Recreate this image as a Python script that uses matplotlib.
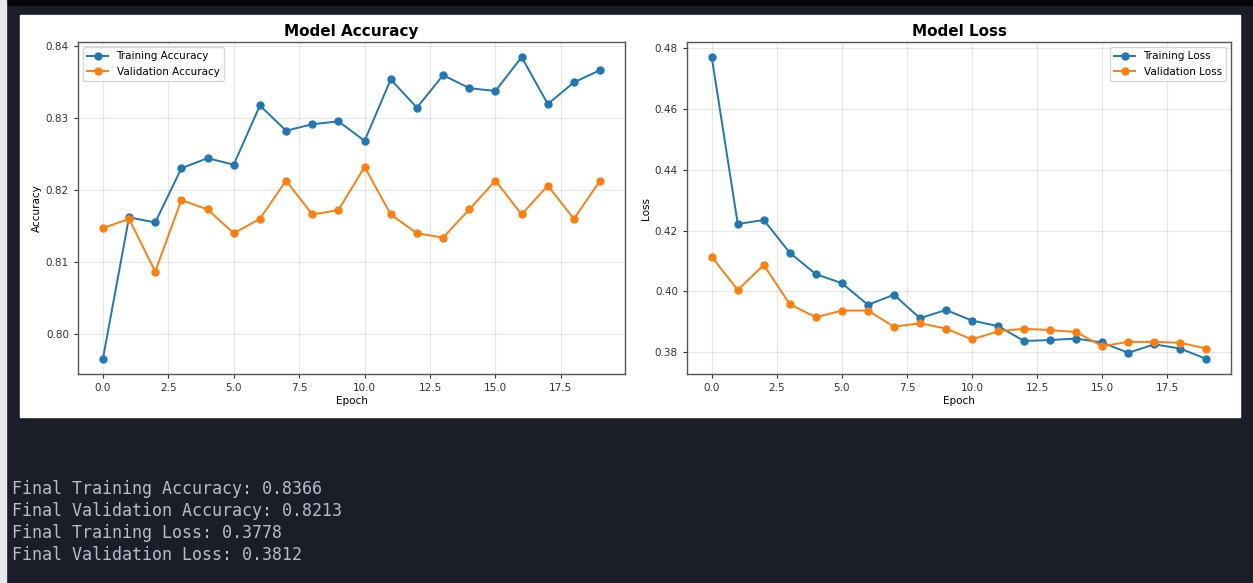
import matplotlib
matplotlib.use("Agg")
import matplotlib.pyplot as plt
from matplotlib.patches import Rectangle

epochs = list(range(20))
train_acc = [0.7966, 0.8162, 0.8155, 0.8230, 0.8244, 0.8235, 0.8317, 0.8282, 0.8291, 0.8295,
             0.8268, 0.8353, 0.8314, 0.8359, 0.8341, 0.8337, 0.8384, 0.8319, 0.8349, 0.8366]
val_acc = [0.8147, 0.8160, 0.8087, 0.8186, 0.8173, 0.8140, 0.8160, 0.8213, 0.8166, 0.8172,
           0.8232, 0.8166, 0.8140, 0.8134, 0.8173, 0.8213, 0.8166, 0.8206, 0.8160, 0.8213]
train_loss = [0.4771, 0.4222, 0.4235, 0.4127, 0.4057, 0.4027, 0.3956, 0.3989, 0.3912, 0.3939,
              0.3904, 0.3886, 0.3837, 0.3840, 0.3845, 0.3832, 0.3798, 0.3826, 0.3812, 0.3778]
val_loss = [0.4114, 0.4005, 0.4087, 0.3958, 0.3915, 0.3937, 0.3937, 0.3884, 0.3895, 0.3878,
            0.3842, 0.3869, 0.3877, 0.3873, 0.3866, 0.3820, 0.3834, 0.3834, 0.3831, 0.3812]
summary_lines = [
    "Final Training Accuracy: 0.8366",
    "Final Validation Accuracy: 0.8213",
    "Final Training Loss: 0.3778",
    "Final Validation Loss: 0.3812",
]

W, H = 1253, 583
BG = "#1b1d29"
fig = plt.figure(figsize=(W / 100, H / 100), dpi=100, facecolor=BG)

def fx(px):
    return px / W

def fy(py):
    return 1 - py / H

# top black strip and left light strip
fig.patches.append(Rectangle((0, fy(5)), 1, 5 / H, transform=fig.transFigure, color="#050507", zorder=-2))
fig.patches.append(Rectangle((0, 0), fx(6), 1, transform=fig.transFigure, color="#e8e8ec", zorder=-2))
# white figure panel
fig.patches.append(Rectangle((fx(20), fy(417)), fx(1240) - fx(20), (417 - 15) / H,
                             transform=fig.transFigure, color="white", zorder=-2))

blue = "#1f77b4"
orange = "#ff7f0e"
fs = 7.5

def style(ax):
    ax.grid(True, alpha=0.3)
    ax.tick_params(labelsize=fs, colors="#333333", length=3)
    for s in ax.spines.values():
        s.set_color("#555555")
        s.set_linewidth(1.0)

ax1 = fig.add_axes([fx(78), fy(374), fx(625) - fx(78), (374 - 42) / H])
ax1.plot(epochs, train_acc, marker="o", color=blue, label="Training Accuracy", markersize=5, linewidth=1.4)
ax1.plot(epochs, val_acc, marker="o", color=orange, label="Validation Accuracy", markersize=5, linewidth=1.4)
ax1.set_title("Model Accuracy", fontsize=11, fontweight="bold", pad=4)
ax1.set_xlabel("Epoch", fontsize=fs, labelpad=2)
ax1.set_ylabel("Accuracy", fontsize=fs, labelpad=3)
ax1.legend(loc="upper left", fontsize=fs)
style(ax1)

ax2 = fig.add_axes([fx(687), fy(374), fx(1231) - fx(687), (374 - 42) / H])
ax2.plot(epochs, train_loss, marker="o", color=blue, label="Training Loss", markersize=5, linewidth=1.4)
ax2.plot(epochs, val_loss, marker="o", color=orange, label="Validation Loss", markersize=5, linewidth=1.4)
ax2.set_title("Model Loss", fontsize=11, fontweight="bold", pad=4)
ax2.set_xlabel("Epoch", fontsize=fs, labelpad=2)
ax2.set_ylabel("Loss", fontsize=fs, labelpad=3)
ax2.legend(loc="upper right", fontsize=fs)
style(ax2)

for i, line in enumerate(summary_lines):
    fig.text(fx(12), fy(489 + 22 * i), line, family="DejaVu Sans Mono", fontsize=12,
             color="#b9bdc9", va="center", ha="left")

fig.savefig("out.png", dpi=100, facecolor=BG)
